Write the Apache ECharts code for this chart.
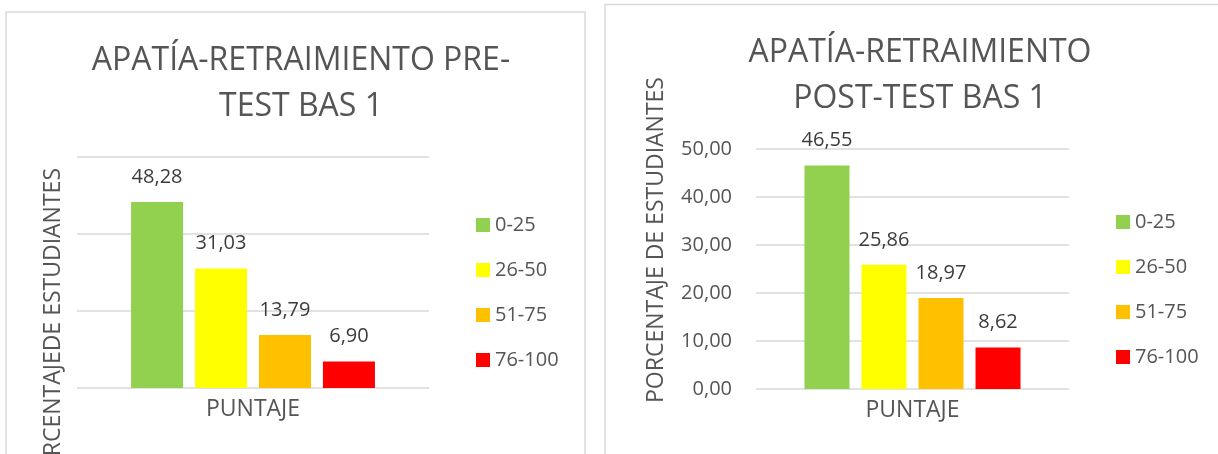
<!DOCTYPE html>
<html>
<head>
<meta charset="utf-8">
<script src="https://cdn.jsdelivr.net/npm/echarts@6/dist/echarts.min.js"></script>
<style>
  html, body { margin: 0; padding: 0; background: #ffffff; }
  #chart { width: 1218px; height: 454px; }
</style>
</head>
<body>
<div id="chart"></div>
<script>
// Score ranges (one bar series per range)
const ranges = ['0-25', '26-50', '51-75', '76-100'];
const rangeColors = ['#92D050', '#FFFF00', '#FFC000', '#FF0000'];

// Percentage of students per range
const preTestValues = [48.28, 31.03, 13.79, 6.90];
const postTestValues = [46.55, 25.86, 18.97, 8.62];

// Axis ticks
const preTicks = { min: 0, max: 60, interval: 20 };
const postTicks = { min: 0, max: 50, interval: 10 };

const categoryName = 'PUNTAJE';
const preTitle = 'APATÍA-RETRAIMIENTO PRE-\nTEST BAS 1';
const postTitle = 'APATÍA-RETRAIMIENTO\nPOST-TEST BAS 1';
const preYName = 'PORCENTAJEDE ESTUDIANTES';
const postYName = 'PORCENTAJE DE ESTUDIANTES';

const FONT = "'Open Sans', 'Noto Sans', sans-serif";
const WEIGHT = 500;
const GRID_COLOR = '#D9D9D9';
const TEXT_COLOR = '#555555';
const LABEL_COLOR = '#3C3C3C';

const comma = v => Number(v).toFixed(2).replace('.', ',');

function makeSeries(values, axisIndex, barWidth, barGap) {
  return values.map((v, i) => ({
    name: ranges[i],
    type: 'bar',
    xAxisIndex: axisIndex,
    yAxisIndex: axisIndex,
    data: [v],
    barWidth: barWidth,
    barGap: barGap,
    itemStyle: { color: rangeColors[i] },
    label: {
      show: true,
      position: 'top',
      distance: 15,
      formatter: p => comma(p.value),
      fontFamily: FONT,
      fontWeight: WEIGHT,
      fontSize: 20,
      color: LABEL_COLOR
    }
  }));
}

function makeXAxis(gridIndex) {
  return {
    type: 'category',
    gridIndex: gridIndex,
    data: [''],
    name: categoryName,
    nameLocation: 'middle',
    nameGap: 10,
    nameTextStyle: { fontFamily: FONT, fontWeight: WEIGHT, fontSize: 23, color: TEXT_COLOR },
    axisLine: { show: false },
    axisTick: { show: false },
    axisLabel: { show: false }
  };
}

function makeYAxis(gridIndex, ticks, showLabels) {
  return {
    type: 'value',
    gridIndex: gridIndex,
    min: ticks.min,
    max: ticks.max,
    interval: ticks.interval,
    axisLine: { show: false },
    axisTick: { show: false },
    axisLabel: {
      show: showLabels,
      margin: 24,
      formatter: v => comma(v),
      fontFamily: FONT,
      fontWeight: WEIGHT,
      fontSize: 20,
      color: TEXT_COLOR
    },
    splitLine: { lineStyle: { color: GRID_COLOR, width: 1.5 } }
  };
}

function makeLegend(left, top) {
  return {
    orient: 'vertical',
    left: left,
    top: top,
    data: ranges,
    icon: 'rect',
    itemWidth: 14,
    itemHeight: 14,
    itemGap: 25,
    selectedMode: false,
    textStyle: { fontFamily: FONT, fontWeight: WEIGHT, fontSize: 20, color: TEXT_COLOR }
  };
}

function titleOf(text, centerX, top) {
  return {
    text: text,
    left: centerX,
    top: top,
    textAlign: 'center',
    textStyle: {
      fontFamily: FONT,
      fontSize: 32,
      fontWeight: WEIGHT,
      lineHeight: 46,
      color: TEXT_COLOR
    }
  };
}

function verticalName(text, cx, cy) {
  return {
    type: 'text',
    x: cx,
    y: cy,
    rotation: Math.PI / 2,
    style: {
      text: text,
      fill: TEXT_COLOR,
      font: WEIGHT + ' 23px ' + FONT,
      textAlign: 'center',
      textVerticalAlign: 'middle'
    }
  };
}

const chart = echarts.init(document.getElementById('chart'), null, { renderer: 'canvas' });

chart.setOption({
  animation: false,
  backgroundColor: '#ffffff',
  textStyle: { fontFamily: FONT },
  title: [
    titleOf(preTitle, 296, 33),
    titleOf(postTitle, 915, 25)
  ],
  legend: [
    makeLegend(471, 210),
    makeLegend(1111, 207)
  ],
  grid: [
    { left: 77, top: 157, width: 352, height: 231 },
    { left: 756, top: 149, width: 313, height: 240 }
  ],
  xAxis: [makeXAxis(0), makeXAxis(1)],
  yAxis: [makeYAxis(0, preTicks, false), makeYAxis(1, postTicks, true)],
  series: [
    ...makeSeries(preTestValues, 0, 52, '23%'),
    ...makeSeries(postTestValues, 1, 45, '26.7%')
  ],
  graphic: [
    // panel frames
    {
      type: 'rect',
      shape: { x: 6, y: 12, width: 579, height: 480 },
      style: { fill: null, stroke: '#DADADA', lineWidth: 1.5 },
      z: -1
    },
    {
      type: 'rect',
      shape: { x: 605, y: 4.5, width: 700, height: 500 },
      style: { fill: null, stroke: '#DADADA', lineWidth: 1.5 },
      z: -1
    },
    verticalName(preYName, 53, 328),
    verticalName(postYName, 656, 240)
  ]
});
</script>
</body>
</html>
